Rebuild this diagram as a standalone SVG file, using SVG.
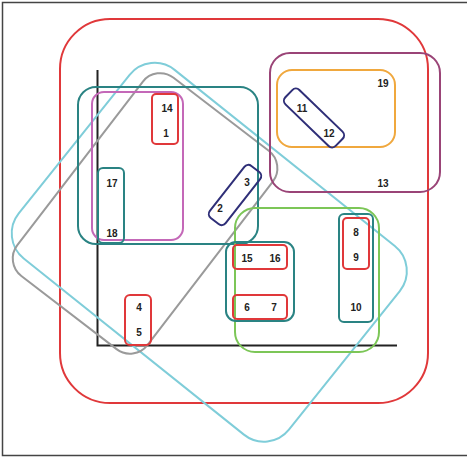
<svg xmlns="http://www.w3.org/2000/svg" width="467" height="457" viewBox="0 0 467 457">
<style>
.s{fill:none;stroke-width:2}
.red{stroke:#e0383a}
.cyan{stroke:#7fcdd9}
.gray{stroke:#9a9a9a}
.green{stroke:#7cc657}
.orange{stroke:#f0a83e}
.maroon{stroke:#9a4477}
.navy{stroke:#2f2f78}
.pink{stroke:#c468b8}
.teal{stroke:#2a8383}
text{font-family:"Liberation Sans",Arial,sans-serif;font-size:10px;font-weight:bold;fill:#222;text-anchor:middle;dominant-baseline:central}
</style>
<rect width="467" height="457" fill="#fff"/>
<path d="M467 2.5H2.5V455.5H467" fill="none" stroke="#444" stroke-width="1.5"/>
<g id="axes">
<path d="M97.5 70V345.5H397" fill="none" stroke="#222" stroke-width="2"/>
</g>
<g id="set-red-outer"><rect class="s red" x="60" y="19" width="368" height="384" rx="50"/></g>
<g id="set-cyan"><rect class="s cyan" x="148" y="-54.5" width="346" height="241.5" rx="32" transform="rotate(38.66)"/></g>
<g id="set-gray"><rect class="s gray" x="163" y="-44" width="164" height="250" rx="22" transform="rotate(37.5)"/></g>
<g id="set-13"><rect class="s maroon" x="270" y="53" width="170" height="139" rx="20"/><text x="383" y="183">13</text></g>
<g id="set-19"><rect class="s orange" x="277" y="70" width="118" height="77" rx="15"/><text x="383" y="83">19</text></g>
<g id="set-11-12"><rect class="s navy" x="279" y="108" width="70" height="20" rx="5" transform="rotate(44 314 118)"/><text x="302" y="108">11</text><text x="329" y="133">12</text></g>
<g id="set-teal-big"><rect class="s teal" x="78" y="87" width="180" height="157" rx="18"/></g>
<g id="set-pink"><rect class="s pink" x="92" y="92" width="91" height="148" rx="12"/></g>
<g id="set-14-1"><rect class="s red" x="152" y="94" width="26" height="50" rx="4"/><text x="167" y="108">14</text><text x="166" y="133">1</text></g>
<g id="set-17-18"><rect class="s teal" x="98" y="168" width="26" height="75" rx="5"/><text x="112" y="183">17</text><text x="112" y="233">18</text></g>
<g id="set-2-3"><rect class="s navy" x="202" y="185" width="66" height="20" rx="5" transform="rotate(-52 235 195)"/><text x="247" y="182">3</text><text x="220" y="208">2</text></g>
<g id="set-green"><rect class="s green" x="235" y="208" width="144" height="144" rx="20"/></g>
<g id="set-15-16-6-7"><rect class="s teal" x="226" y="242" width="68" height="79" rx="10"/></g>
<g id="set-15-16"><rect class="s red" x="233" y="245" width="54" height="24" rx="4"/><text x="247" y="258">15</text><text x="275" y="258">16</text></g>
<g id="set-6-7"><rect class="s red" x="233" y="295" width="54" height="24" rx="4"/><text x="247" y="307">6</text><text x="274" y="307">7</text></g>
<g id="set-8-9-10"><rect class="s teal" x="339" y="214" width="34" height="108" rx="5"/><text x="356" y="307">10</text></g>
<g id="set-8-9"><rect class="s red" x="343" y="218" width="26" height="51" rx="4"/><text x="356" y="232">8</text><text x="356" y="257">9</text></g>
<g id="set-4-5"><rect class="s red" x="125" y="295" width="26" height="50" rx="5"/><text x="139" y="307">4</text><text x="139" y="332">5</text></g>
</svg>
